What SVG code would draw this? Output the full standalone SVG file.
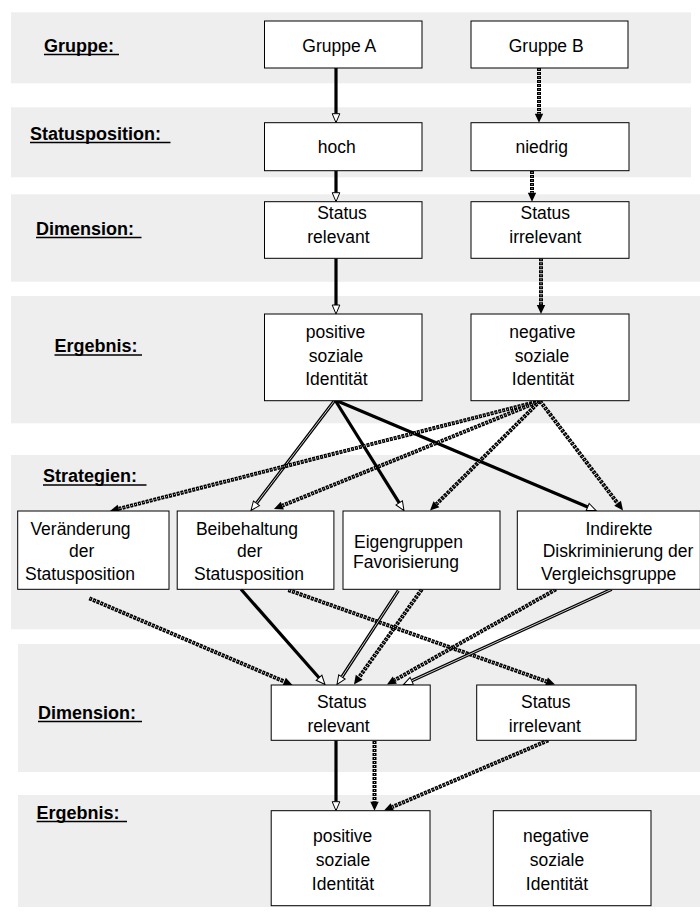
<svg xmlns="http://www.w3.org/2000/svg" width="700" height="912" viewBox="0 0 700 912">
  <defs>
    <style>
      .band { fill: #eeeeee; }
      .box { fill: #ffffff; stroke: #000000; stroke-width: 1; }
      .t { font-family: "Liberation Sans", Arial, sans-serif; font-size: 17.5px; fill: #000; text-anchor: middle; }
      .lbl { font-family: "Liberation Sans", Arial, sans-serif; font-size: 18px; font-weight: bold; fill: #000; }
      .ul { stroke: #000; stroke-width: 1.5; }
      .solid { fill: none; stroke: #000; stroke-width: 3.2; }
      .core { fill: none; stroke: #ffffff; stroke-width: 0.8; }
      .dash { fill: none; stroke: #000; stroke-width: 4; stroke-dasharray: 3 1; }
      .dashcore { fill: none; stroke: #ffffff; stroke-width: 0.9; stroke-dasharray: 0.9 3.1; stroke-dashoffset: -1; }
    </style>
    <marker id="headOpen" viewBox="0 -5 10 10" refX="0" refY="0" markerWidth="10" markerHeight="10" markerUnits="userSpaceOnUse" orient="auto" overflow="visible">
      <path d="M0,-3.8 L9,0 L0,3.8 Z" fill="#ffffff" stroke="#000" stroke-width="1"/>
    </marker>
    <marker id="headFill" viewBox="0 -5 10 10" refX="0" refY="0" markerWidth="10" markerHeight="10" markerUnits="userSpaceOnUse" orient="auto" overflow="visible">
      <path d="M0,-4.2 L9,0 L0,4.2 Z" fill="#000"/>
    </marker>
  </defs>

  <rect width="700" height="912" fill="#ffffff"/>

  <!-- horizontal level bands -->
  <g id="bands">
    <rect class="band" x="11" y="12.3" width="680" height="71"/>
    <rect class="band" x="11" y="107.3" width="680" height="70"/>
    <rect class="band" x="11" y="194.3" width="689" height="87.4"/>
    <rect class="band" x="11" y="296" width="689" height="127.3"/>
    <rect class="band" x="11" y="455" width="689" height="174.3"/>
    <rect class="band" x="18" y="644" width="682" height="128"/>
    <rect class="band" x="18" y="795" width="682" height="112"/>
  </g>

  <!-- level captions -->
  <g id="labels">
    <text class="lbl" x="44" y="52">Gruppe:</text>
    <line class="ul" x1="44" y1="54.5" x2="119" y2="54.5"/>
    <text class="lbl" x="30" y="140">Statusposition:</text>
    <line class="ul" x1="30" y1="142.5" x2="170.5" y2="142.5"/>
    <text class="lbl" x="36" y="235">Dimension:</text>
    <line class="ul" x1="36" y1="237.5" x2="141.5" y2="237.5"/>
    <text class="lbl" x="54.5" y="352">Ergebnis:</text>
    <line class="ul" x1="54.5" y1="355" x2="142" y2="355"/>
    <text class="lbl" x="43" y="482">Strategien:</text>
    <line class="ul" x1="43" y1="485" x2="146.5" y2="485"/>
    <text class="lbl" x="38" y="719">Dimension:</text>
    <line class="ul" x1="38" y1="721.5" x2="142" y2="721.5"/>
    <text class="lbl" x="36.6" y="818.5">Ergebnis:</text>
    <line class="ul" x1="36.6" y1="821.5" x2="127" y2="821.5"/>
  </g>

  <!-- connectors -->
  <g id="connectors">
    <!-- group A chain -->
    <path class="solid" d="M336,68 L336,113.7" marker-end="url(#headOpen)"/>
    <path class="solid" d="M336,170.7 L336,192.7" marker-end="url(#headOpen)"/>
    <path class="solid" d="M336,258.3 L336,305" marker-end="url(#headOpen)"/>
    <!-- group B chain -->
    <path class="dash" d="M539,68 L539,113.7" marker-end="url(#headFill)"/>
    <path class="dashcore" d="M539,68 L539,113.7"/>
    <path class="dash" d="M532,163 L532,192.7" marker-end="url(#headFill)"/>
    <path class="dashcore" d="M532,163 L532,192.7"/>
    <path class="dash" d="M541,258.3 L541,305" marker-end="url(#headFill)"/>
    <path class="dashcore" d="M541,258.3 L541,305"/>

    <!-- positive identity to strategies -->
    <path class="solid" d="M335,400 L256.45,503.3" marker-end="url(#headOpen)"/>
    <path class="core" d="M335,400 L256.45,503.3"/>
    <path class="solid" d="M335,400 L399.2,502.9" marker-end="url(#headOpen)"/>
    <path class="solid" d="M335,400 L587.7,507" marker-end="url(#headOpen)"/>

    <!-- negative identity to strategies -->
    <path class="dash" d="M540,401 L118.7,508.8" marker-end="url(#headFill)"/>
    <path class="dashcore" d="M540,401 L118.7,508.8"/>
    <path class="dash" d="M540,401 L282.3,505.6" marker-end="url(#headFill)"/>
    <path class="dashcore" d="M540,401 L282.3,505.6"/>
    <path class="dash" d="M540,401 L436.4,504.15" marker-end="url(#headFill)"/>
    <path class="dashcore" d="M540,401 L436.4,504.15"/>
    <path class="dash" d="M540,401 L617.6,503.3" marker-end="url(#headFill)"/>
    <path class="dashcore" d="M540,401 L617.6,503.3"/>

    <!-- strategies to second dimension level -->
    <path class="dash" d="M89.3,598.3 L284.2,681.5" marker-end="url(#headFill)"/>
    <path class="dashcore" d="M89.3,598.3 L284.2,681.5"/>
    <path class="solid" d="M241,589.3 L319.05,677.75" marker-end="url(#headOpen)"/>
    <path class="dash" d="M288.3,590 L546.5,681.5" marker-end="url(#headFill)"/>
    <path class="dashcore" d="M288.3,590 L546.5,681.5"/>
    <path class="solid" d="M398.3,590.7 L341.9,677" marker-end="url(#headOpen)"/>
    <path class="core" d="M398.3,590.7 L341.9,677"/>
    <path class="dash" d="M421.8,589.3 L359.2,677.2" marker-end="url(#headFill)"/>
    <path class="dashcore" d="M421.8,589.3 L359.2,677.2"/>
    <path class="dash" d="M556,589.3 L394.8,680.1" marker-end="url(#headFill)"/>
    <path class="dashcore" d="M556,589.3 L394.8,680.1"/>
    <path class="solid" d="M611.7,589.3 L411.7,680.8" marker-end="url(#headOpen)"/>
    <path class="core" d="M611.7,589.3 L411.7,680.8"/>

    <!-- second dimension level to final outcome -->
    <path class="solid" d="M336,740.3 L336,801.7" marker-end="url(#headOpen)"/>
    <path class="dash" d="M374.5,741 L374.5,801.7" marker-end="url(#headFill)"/>
    <path class="dashcore" d="M374.5,741 L374.5,801.7"/>
    <path class="dash" d="M548.3,740.3 L392.3,807" marker-end="url(#headFill)"/>
    <path class="dashcore" d="M548.3,740.3 L392.3,807"/>
  </g>

  <!-- nodes -->
  <g id="gruppe-a">
    <rect class="box" x="264.5" y="21" width="157.5" height="47"/>
    <text class="t" x="339.3" y="51.5">Gruppe A</text>
  </g>
  <g id="gruppe-b">
    <rect class="box" x="471" y="21" width="157" height="47"/>
    <text class="t" x="546.2" y="51.5">Gruppe B</text>
  </g>
  <g id="status-hoch">
    <rect class="box" x="264.5" y="122.7" width="157.5" height="48"/>
    <text class="t" x="336.8" y="152.5">hoch</text>
  </g>
  <g id="status-niedrig">
    <rect class="box" x="471" y="122.7" width="158" height="48"/>
    <text class="t" x="541.7" y="152.5">niedrig</text>
  </g>
  <g id="dimension-relevant">
    <rect class="box" x="264.5" y="201.7" width="157.5" height="56.6"/>
    <text class="t" x="342" y="219">Status</text>
    <text class="t" x="338.4" y="242.5">relevant</text>
  </g>
  <g id="dimension-irrelevant">
    <rect class="box" x="471" y="201.7" width="158" height="56.6"/>
    <text class="t" x="545.3" y="219">Status</text>
    <text class="t" x="545.3" y="242.5">irrelevant</text>
  </g>
  <g id="ergebnis-positiv">
    <rect class="box" x="264.5" y="314" width="157.5" height="86.7"/>
    <text class="t" x="335.5" y="337.7">positive</text>
    <text class="t" x="336" y="361.5">soziale</text>
    <text class="t" x="336.4" y="385">Identität</text>
  </g>
  <g id="ergebnis-negativ">
    <rect class="box" x="471" y="314" width="158" height="86.7"/>
    <text class="t" x="542.4" y="337.7">negative</text>
    <text class="t" x="542" y="361.5">soziale</text>
    <text class="t" x="543" y="385">Identität</text>
  </g>
  <g id="strategie-veraenderung">
    <rect class="box" x="17.7" y="511" width="151.3" height="78.3"/>
    <text class="t" x="80.5" y="535">Veränderung</text>
    <text class="t" x="81.7" y="557">der</text>
    <text class="t" x="80" y="580">Statusposition</text>
  </g>
  <g id="strategie-beibehaltung">
    <rect class="box" x="177.2" y="511" width="156.7" height="78.3"/>
    <text class="t" x="247" y="535">Beibehaltung</text>
    <text class="t" x="249.6" y="557">der</text>
    <text class="t" x="249" y="580">Statusposition</text>
  </g>
  <g id="strategie-eigengruppen">
    <rect class="box" x="343" y="511" width="157" height="78.3"/>
    <text class="t" x="408.5" y="548">Eigengruppen</text>
    <text class="t" x="406" y="568">Favorisierung</text>
  </g>
  <g id="strategie-diskriminierung">
    <rect class="box" x="517.3" y="511" width="183" height="78.3"/>
    <text class="t" x="619" y="535">Indirekte</text>
    <text class="t" x="618" y="557">Diskriminierung der</text>
    <text class="t" x="608.7" y="580">Vergleichsgruppe</text>
  </g>
  <g id="dimension2-relevant">
    <rect class="box" x="271.2" y="685" width="159" height="55.3"/>
    <text class="t" x="341.7" y="708.3">Status</text>
    <text class="t" x="338.6" y="731.7">relevant</text>
  </g>
  <g id="dimension2-irrelevant">
    <rect class="box" x="476.7" y="685" width="159.3" height="55.3"/>
    <text class="t" x="545.8" y="708.3">Status</text>
    <text class="t" x="544.8" y="731.7">irrelevant</text>
  </g>
  <g id="ergebnis2-positiv">
    <rect class="box" x="271.2" y="810.7" width="158.8" height="95"/>
    <text class="t" x="342.6" y="842">positive</text>
    <text class="t" x="342.9" y="866">soziale</text>
    <text class="t" x="343" y="890">Identität</text>
  </g>
  <g id="ergebnis2-negativ">
    <rect class="box" x="493.3" y="810.7" width="157.7" height="95"/>
    <text class="t" x="556" y="842">negative</text>
    <text class="t" x="557" y="866">soziale</text>
    <text class="t" x="557" y="890">Identität</text>
  </g>
</svg>
